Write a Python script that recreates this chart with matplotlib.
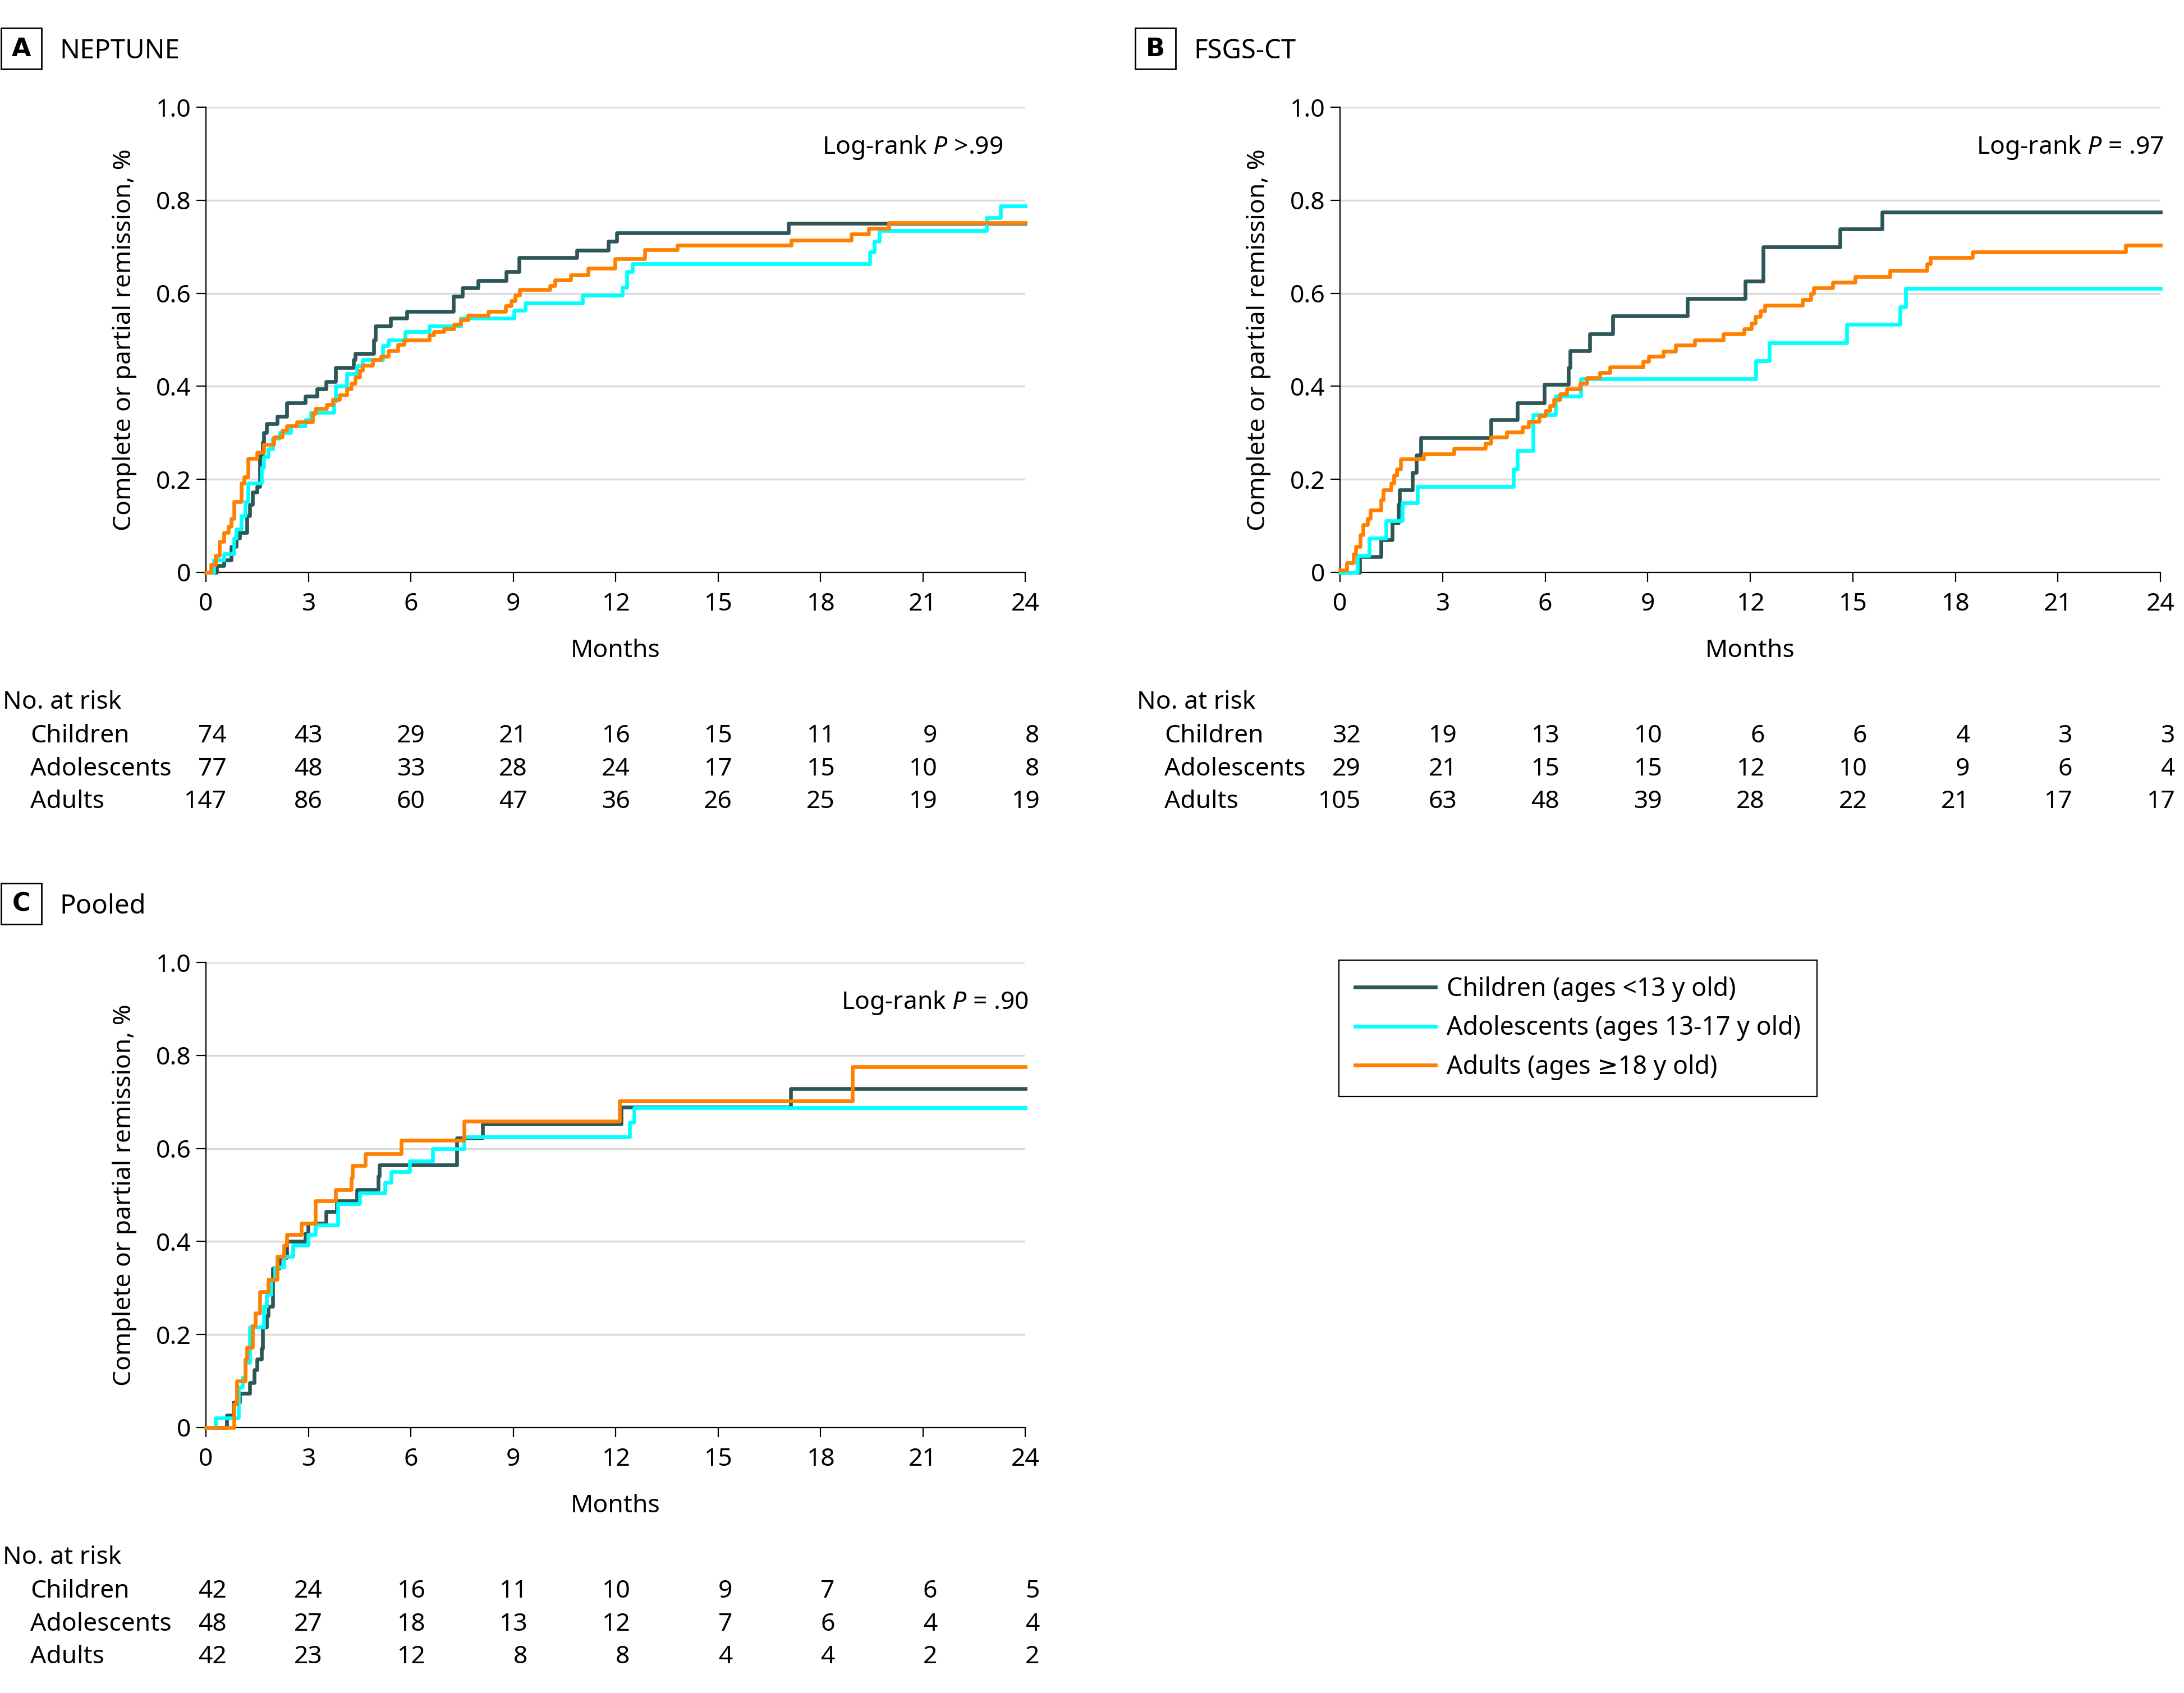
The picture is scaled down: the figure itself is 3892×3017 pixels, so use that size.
import numpy as np
import matplotlib
matplotlib.use("Agg")
import matplotlib.pyplot as plt
from matplotlib import transforms
from matplotlib.patches import Rectangle

plt.rcParams['font.family'] = ['Noto Sans', 'DejaVu Sans']
plt.rcParams['mathtext.fontset'] = 'custom'
plt.rcParams['mathtext.rm'] = 'Noto Sans'
plt.rcParams['mathtext.it'] = 'Noto Sans:italic'

# ── Data (months, cumulative proportion in remission) ─────────────────────────

months_ticks = [0, 3, 6, 9, 12, 15, 18, 21, 24]
groups = ['Children', 'Adolescents', 'Adults']
legend_labels = ['Children (ages <13 y old)',
                 'Adolescents (ages 13-17 y old)',
                 'Adults (ages ≥18 y old)']

# A — NEPTUNE
a_child_t = [0, 0.32, 0.53, 0.74, 0.89, 0.99, 1.20, 1.28, 1.36, 1.49, 1.57, 1.66, 1.70, 1.78,
             2.08, 2.37, 2.91, 3.25, 3.51, 3.79, 4.33, 4.38, 4.92, 4.96, 5.41, 5.88, 7.25,
             7.51, 7.97, 8.79, 9.17, 10.86, 11.78, 12.03, 17.07]
a_child_s = [0, 0.015, 0.027, 0.056, 0.073, 0.086, 0.122, 0.146, 0.172, 0.185, 0.25, 0.28, 0.30,
             0.32, 0.335, 0.364, 0.379, 0.394, 0.41, 0.44, 0.457, 0.47, 0.50, 0.53, 0.546, 0.561,
             0.593, 0.611, 0.627, 0.646, 0.677, 0.693, 0.712, 0.73, 0.75]
a_adol_t = [0, 0.23, 0.53, 0.82, 0.89, 1.03, 1.15, 1.24, 1.62, 1.70, 1.82, 1.95, 2.16, 2.49,
            2.91, 3.08, 3.75, 3.79, 4.12, 4.42, 4.59, 5.17, 5.34, 5.84, 6.55, 7.47, 9.02, 9.36,
            11.03, 12.20, 12.33, 12.49, 19.45, 19.57, 19.73, 22.87, 23.27]
a_adol_s = [0, 0.026, 0.04, 0.073, 0.093, 0.122, 0.152, 0.192, 0.225, 0.248, 0.265, 0.288, 0.30,
            0.315, 0.328, 0.344, 0.368, 0.40, 0.427, 0.444, 0.457, 0.487, 0.50, 0.517, 0.53,
            0.546, 0.563, 0.579, 0.596, 0.613, 0.646, 0.664, 0.689, 0.712, 0.735, 0.762, 0.788]
a_adult_t = [0, 0.15, 0.28, 0.40, 0.53, 0.65, 0.74, 0.82, 1.03, 1.11, 1.24, 1.49, 1.70, 1.99,
             2.24, 2.37, 2.66, 3.12, 3.20, 3.54, 3.71, 3.92, 4.13, 4.25, 4.38, 4.50, 4.59, 4.88,
             5.13, 5.34, 5.63, 5.80, 6.55, 6.68, 6.97, 7.26, 7.47, 7.68, 8.27, 8.77, 8.94, 9.06,
             9.19, 10.07, 10.23, 10.69, 11.20, 11.99, 12.85, 13.81, 17.15, 18.90, 19.41, 20.01]
a_adult_s = [0, 0.017, 0.036, 0.066, 0.086, 0.099, 0.116, 0.152, 0.192, 0.205, 0.245, 0.258,
             0.275, 0.291, 0.305, 0.315, 0.323, 0.341, 0.352, 0.361, 0.371, 0.381, 0.394, 0.407,
             0.42, 0.434, 0.445, 0.457, 0.465, 0.477, 0.49, 0.50, 0.51, 0.517, 0.524, 0.533,
             0.543, 0.553, 0.561, 0.573, 0.584, 0.596, 0.608, 0.617, 0.629, 0.639, 0.654, 0.674,
             0.694, 0.703, 0.714, 0.727, 0.74, 0.752]

# B — FSGS-CT
b_child_t = [0, 0.57, 1.20, 1.53, 1.70, 1.74, 2.12, 2.24, 2.37, 4.42, 5.18, 5.97, 6.68, 6.73,
             7.31, 7.98, 10.16, 11.85, 12.38, 14.62, 15.85]
b_child_s = [0, 0.034, 0.07, 0.106, 0.146, 0.177, 0.215, 0.252, 0.289, 0.328, 0.364, 0.404,
             0.44, 0.477, 0.513, 0.551, 0.589, 0.626, 0.70, 0.738, 0.775]
b_adol_t = [0, 0.51, 0.85, 1.35, 1.83, 2.27, 5.07, 5.19, 5.64, 6.31, 7.04, 12.17, 12.55, 14.83,
            16.38, 16.54]
b_adol_s = [0, 0.036, 0.074, 0.111, 0.149, 0.185, 0.222, 0.262, 0.339, 0.379, 0.416, 0.455,
            0.493, 0.533, 0.57, 0.61]
b_adult_t = [0, 0.19, 0.40, 0.46, 0.59, 0.68, 0.80, 0.88, 1.20, 1.26, 1.49, 1.57, 1.66, 1.78,
             2.45, 3.33, 4.25, 4.42, 4.87, 5.34, 5.51, 5.82, 6.01, 6.14, 6.26, 6.43, 6.64, 7.02,
             7.23, 7.60, 7.90, 8.86, 9.03, 9.45, 9.82, 10.37, 11.21, 11.82, 12.04, 12.15, 12.29,
             12.42, 13.52, 13.77, 13.85, 14.42, 15.07, 16.09, 17.17, 17.27, 18.50, 22.98]
b_adult_s = [0.005, 0.02, 0.04, 0.056, 0.081, 0.103, 0.116, 0.134, 0.156, 0.177, 0.192, 0.209,
             0.222, 0.244, 0.255, 0.266, 0.278, 0.291, 0.301, 0.313, 0.325, 0.336, 0.348, 0.358,
             0.371, 0.383, 0.394, 0.407, 0.419, 0.43, 0.442, 0.454, 0.465, 0.475, 0.488, 0.50,
             0.513, 0.523, 0.536, 0.55, 0.562, 0.574, 0.586, 0.60, 0.611, 0.624, 0.636, 0.649,
             0.664, 0.677, 0.689, 0.703]

# C — Pooled
c_child_t = [0, 0.61, 0.80, 0.99, 1.28, 1.41, 1.49, 1.62, 1.66, 1.78, 1.82, 1.95, 2.16, 2.37,
             2.91, 2.99, 3.52, 3.83, 4.42, 5.05, 5.08, 7.35, 8.10, 12.16, 17.13]
c_child_s = [0, 0.026, 0.054, 0.074, 0.097, 0.124, 0.147, 0.17, 0.216, 0.24, 0.26, 0.342,
             0.365, 0.401, 0.417, 0.439, 0.464, 0.487, 0.512, 0.54, 0.565, 0.622, 0.653, 0.689,
             0.728]
c_adol_t = [0, 0.28, 0.95, 1.07, 1.15, 1.28, 1.70, 1.78, 1.91, 2.03, 2.28, 2.54, 2.99, 3.20,
            3.87, 4.50, 5.25, 5.42, 5.97, 6.64, 7.56, 12.41, 12.54]
c_adol_s = [0, 0.021, 0.087, 0.107, 0.14, 0.216, 0.26, 0.286, 0.319, 0.345, 0.368, 0.392,
            0.415, 0.435, 0.481, 0.504, 0.527, 0.55, 0.573, 0.599, 0.625, 0.656, 0.688]
c_adult_t = [0, 0.82, 0.90, 1.15, 1.20, 1.36, 1.45, 1.57, 1.82, 2.08, 2.28, 2.37, 2.79, 3.20,
             3.79, 4.25, 4.29, 4.67, 5.72, 7.56, 12.12, 18.94]
c_adult_s = [0, 0.051, 0.10, 0.147, 0.173, 0.22, 0.246, 0.292, 0.319, 0.368, 0.392, 0.415,
             0.439, 0.487, 0.512, 0.537, 0.563, 0.589, 0.618, 0.659, 0.702, 0.776]

# Numbers at risk
a_risk = [[74, 43, 29, 21, 16, 15, 11, 9, 8],
          [77, 48, 33, 28, 24, 17, 15, 10, 8],
          [147, 86, 60, 47, 36, 26, 25, 19, 19]]
b_risk = [[32, 19, 13, 10, 6, 6, 4, 3, 3],
          [29, 21, 15, 15, 12, 10, 9, 6, 4],
          [105, 63, 48, 39, 28, 22, 21, 17, 17]]
c_risk = [[42, 24, 16, 11, 10, 9, 7, 6, 5],
          [48, 27, 18, 13, 12, 7, 6, 4, 4],
          [42, 23, 12, 8, 8, 4, 4, 2, 2]]

p_texts = ['Log-rank $P$ >.99', 'Log-rank $P$ = .97', 'Log-rank $P$ = .90']

COLORS = ['#2D5657', '#00FFFF', '#FF8000']

# ── Layout (pixel coords of the 3892 x 3017 canvas) ──────────────────────────

W, H, DPI = 3892, 3017, 200
FS = 16
DY = 6   # nudge for text centred on its bbox

def fx(x):
    return x / W

def fy(y):
    return 1 - y / H

fig = plt.figure(figsize=(W / DPI, H / DPI), dpi=DPI)

panels = [
    # letter, title, left, top, right, bottom, curves, risk, p-text, p-text x
    ('A', 'NEPTUNE', 367, 191, 1827, 1020,
     [(a_child_t, a_child_s), (a_adol_t, a_adol_s), (a_adult_t, a_adult_s)], a_risk, p_texts[0], 23.35),
    ('B', 'FSGS-CT', 2388, 191, 3850, 1020,
     [(b_child_t, b_child_s), (b_adol_t, b_adol_s), (b_adult_t, b_adult_s)], b_risk, p_texts[1], 24.1),
    ('C', 'Pooled', 367, 1715, 1827, 2544,
     [(c_child_t, c_child_s), (c_adol_t, c_adol_s), (c_adult_t, c_adult_s)], c_risk, p_texts[2], 24.1),
]

handles = []
for letter, title, L, T, R, B, curves, risk, ptxt, px in panels:
    ax = fig.add_axes([fx(L), fy(B), (R - L) / W, (B - T) / H])
    for (t, s), col in zip(curves, COLORS):
        ln, = ax.step(np.append(t, 24), np.append(s, s[-1]), where='post',
                      color=col, lw=2.4, clip_on=False, zorder=3)
        if letter == 'A':
            handles.append(ln)
    ax.set_xlim(0, 24)
    ax.set_ylim(0, 1)
    ax.set_xticks(months_ticks)
    ax.set_yticks([0, 0.2, 0.4, 0.6, 0.8, 1.0])
    ax.set_yticklabels(['0', '0.2', '0.4', '0.6', '0.8', '1.0'])
    ax.yaxis.grid(True, color='#d9d9d9', lw=1.2)
    ax.set_axisbelow(True)
    for sp in ['top', 'right']:
        ax.spines[sp].set_visible(False)
    for sp in ['left', 'bottom']:
        ax.spines[sp].set_linewidth(0.8)
        ax.spines[sp].set_zorder(2)
    ax.tick_params(axis='both', direction='out', length=6, width=0.8, labelsize=FS)
    ax.tick_params(axis='y', pad=3.6)
    ax.tick_params(axis='x', pad=6.5)

    ax.text(px, 0.913, ptxt, ha='right', va='center', fontsize=FS)

    # axis titles
    fig.text(fx((L + R) / 2), fy(B + 134 + DY), 'Months', ha='center', va='center', fontsize=FS)
    fig.text(fx(L - 145), fy((T + B) / 2), 'Complete or partial remission, %',
             rotation=90, ha='center', va='center', fontsize=FS)

    # panel label box and title
    bx = L - 365
    by = T - 141
    fig.add_artist(Rectangle((fx(bx), fy(by + 73)), 72 / W, 73 / H, transform=fig.transFigure,
                             fill=False, lw=1.0, edgecolor='black'))
    fig.text(fx(bx + 36), fy(by + 37), letter, ha='center', va='center',
             fontsize=16, fontweight='bold', family='DejaVu Sans')
    fig.text(fx(bx + 104), fy(by + 36 + DY), title, ha='left', va='center', fontsize=17)

    # number at risk table
    ty = B + 226 + DY
    fig.text(fx(L - 362), fy(ty), 'No. at risk', ha='left', va='center', fontsize=FS)
    trans = transforms.blended_transform_factory(ax.transData, fig.transFigure)
    for r, (grp, row) in enumerate(zip(groups, risk)):
        yy = fy(ty + 60 + 58.5 * r)
        fig.text(fx(L - 313), yy, grp, ha='left', va='center', fontsize=FS)
        for c, (m, n) in enumerate(zip(months_ticks, row)):
            off = 0.6 if c == 0 else 0.42
            ax.text(m + off, yy, str(n), transform=trans, ha='right', va='center',
                    fontsize=FS, clip_on=False)

# legend
fig.legend(handles, legend_labels, loc='upper left',
           bbox_to_anchor=(fx(2386), fy(1711)), bbox_transform=fig.transFigure,
           borderaxespad=0, fontsize=16.1, frameon=True, fancybox=False,
           edgecolor='black', framealpha=1, handlelength=3.2, handletextpad=0.45,
           labelspacing=0.52, borderpad=0.65)
fig.legends[0].get_frame().set_linewidth(0.8)

fig.savefig('out.png', dpi=DPI, facecolor='white')
